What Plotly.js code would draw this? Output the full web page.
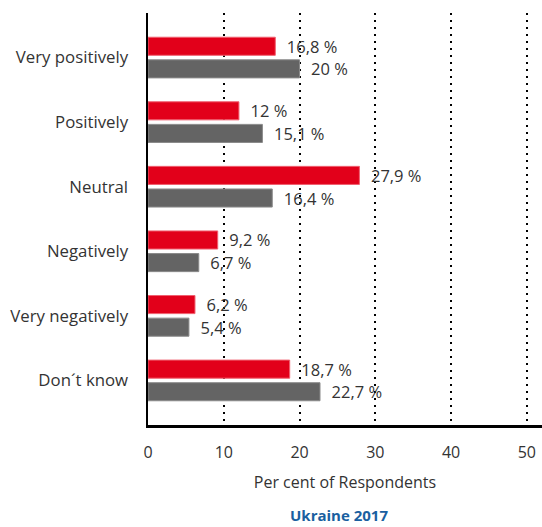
<!DOCTYPE html>
<html>
<head>
<meta charset="utf-8">
<script src="https://cdn.plot.ly/plotly-3.0.1.min.js"></script>
<style>html,body{margin:0;padding:0;background:#fff;}#chart{width:542px;height:527px;}</style>
</head>
<body>
<div id="chart"></div>
<script>
const categories = ["Very positively", "Positively", "Neutral", "Negatively", "Very negatively", "Don´t know"];
const seriesRed = [16.8, 12, 27.9, 9.2, 6.2, 18.7];
const seriesGray = [20, 15.1, 16.4, 6.7, 5.4, 22.7];
const xTicks = [0, 10, 20, 30, 40, 50];

function fmt(v) {
  return '\u00a0\u00a0' + String(v).replace('.', ',') + '\u00a0%';
}

const font = "'Open Sans', 'DejaVu Sans', sans-serif";

const traces = [
  {
    type: 'bar', orientation: 'h', name: 'Red',
    y: categories, x: seriesRed,
    marker: {color: '#e2001a', line: {color: '#f06070', width: 1}},
    text: seriesRed.map(fmt), textposition: 'outside', cliponaxis: false, constraintext: 'none',
    textfont: {family: font, size: 16.5, color: '#333333'},
    hoverinfo: 'x'
  },
  {
    type: 'bar', orientation: 'h', name: 'Gray',
    y: categories, x: seriesGray,
    marker: {color: '#646464', line: {color: '#8a8a8a', width: 1}},
    text: seriesGray.map(fmt), textposition: 'outside', cliponaxis: false, constraintext: 'none',
    textfont: {family: font, size: 16.5, color: '#333333'},
    hoverinfo: 'x'
  }
];

const layout = {
  width: 542, height: 527,
  margin: {l: 148, r: 0, t: 13, b: 102},
  paper_bgcolor: '#ffffff', plot_bgcolor: '#ffffff',
  showlegend: false,
  barmode: 'group', bargap: 0.30, bargroupgap: 0.2,
  font: {family: font, size: 16, color: '#333333'},
  xaxis: {
    range: [0, 52], tickvals: xTicks, ticktext: xTicks.map(String),
    showgrid: true, gridcolor: '#000000', gridwidth: 2, griddash: '2px,5px',
    zeroline: false, showline: true, linecolor: '#000000', linewidth: 2.5,
    ticks: '', ticklabelstandoff: 11,
    tickfont: {family: font, size: 16, color: '#333333'},
    title: {text: 'Per cent of Respondents', font: {family: font, size: 16, color: '#333333'}, standoff: 15}
  },
  yaxis: {
    type: 'category', range: [5.69, -0.69],
    showgrid: false, zeroline: false, showline: true, linecolor: '#000000', linewidth: 2.5,
    ticks: '', ticklabelstandoff: 14,
    tickfont: {family: font, size: 16.8, color: '#333333'}
  },
  annotations: [{
    text: '<b>Ukraine 2017</b>', xref: 'paper', yref: 'paper', x: 0.485, y: 0,
    yshift: -90, showarrow: false, xanchor: 'center', yanchor: 'middle',
    font: {family: font, size: 15, color: '#1a5fa0'}
  }]
};

Plotly.newPlot('chart', traces, layout, {displayModeBar: false, staticPlot: true});
</script>
</body>
</html>
